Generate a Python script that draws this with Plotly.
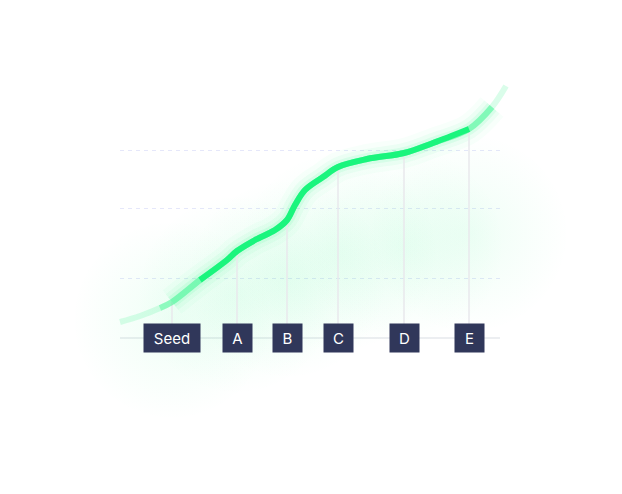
import plotly.graph_objects as go

# funding stages along the x axis
stages = ['Seed', 'A', 'B', 'C', 'D', 'E']
stage_x = [52, 117, 167, 218, 284, 349]
stage_y = [36, 87, 118, 171, 185, 209]

# growth curve
curve_x = [0, 20, 40, 52, 80, 107, 117, 135, 155, 167, 175, 185, 203, 218,
           247, 284, 313, 349, 372, 386]
curve_y = [16, 22, 30, 36, 58, 78, 87, 98, 108, 118, 133, 148, 161, 171,
           179, 185, 195, 209, 231, 252]

grid_y = [60, 130, 188]

GREEN = '#1af57d'
NAVY = '#30375a'

fig = go.Figure()

# grid lives on its own narrower axes (x / y), drawn first
fig.add_trace(go.Scatter(x=[], y=[], xaxis='x', yaxis='y', hoverinfo='skip'))

# big soft glow: one blurred blob per stage, halfway up its line
# (for radial gradients gradient.color is the centre colour)
fig.add_trace(go.Scatter(
    x=stage_x, y=[v / 2 for v in stage_y], mode='markers', xaxis='x2', yaxis='y2',
    marker=dict(size=200, color='rgba(26,245,125,0)', line=dict(width=0),
                gradient=dict(type='radial', color='rgba(26,245,125,0.07)')),
    hoverinfo='skip'
))

# halo around the line
for w, a in [(30, 0.03), (20, 0.05), (12, 0.09)]:
    fig.add_trace(go.Scatter(
        x=curve_x[3:19], y=curve_y[3:19], mode='lines', xaxis='x2', yaxis='y2',
        line=dict(color='rgba(26,245,125,%s)' % a, width=w, shape='spline'),
        hoverinfo='skip'
    ))

# vertical stage lines
vx, vy = [], []
for x, y in zip(stage_x, stage_y):
    vx += [x, x, None]
    vy += [0, y, None]
fig.add_trace(go.Scatter(x=vx, y=vy, mode='lines', xaxis='x2', yaxis='y2',
                         line=dict(color='#e8e9ed', width=1.5), hoverinfo='skip'))

# the curve, faded towards both ends
fig.add_trace(go.Scatter(x=curve_x, y=curve_y, mode='lines', xaxis='x2', yaxis='y2',
                         line=dict(color='rgba(26,245,125,0.16)', width=6, shape='spline')))
fig.add_trace(go.Scatter(x=curve_x[2:19], y=curve_y[2:19], mode='lines', xaxis='x2', yaxis='y2',
                         line=dict(color='rgba(26,245,125,0.35)', width=6, shape='spline')))
fig.add_trace(go.Scatter(x=curve_x[4:18], y=curve_y[4:18], mode='lines', xaxis='x2', yaxis='y2',
                         line=dict(color=GREEN, width=6, shape='spline')))

for name, x in zip(stages, stage_x):
    fig.add_annotation(
        x=x, y=0, xref='x2', yref='y2', text=name, showarrow=False,
        font=dict(family='Inter', size=15, color='white'),
        bgcolor=NAVY, width=56 if len(name) > 1 else 29, height=28,
        borderpad=0, xanchor='center', yanchor='middle'
    )

# the page has an 8px body margin, so the figure is 8px smaller and ranges shifted
fig.update_layout(
    width=614, height=486,
    margin=dict(l=0, r=0, t=0, b=0),
    paper_bgcolor='white', plot_bgcolor='rgba(0,0,0,0)',
    showlegend=False,
    xaxis=dict(domain=[112 / 614, 492 / 614], range=[0, 380], anchor='y',
               showgrid=False, showticklabels=False, zeroline=False),
    yaxis=dict(range=[-156, 330], anchor='x',
               tickvals=grid_y, showticklabels=False, showgrid=True,
               gridcolor='#e5e7fa', gridwidth=1, griddash='4px,4px',
               zeroline=True, zerolinecolor='#eceef1', zerolinewidth=1.5),
    xaxis2=dict(domain=[0, 1], range=[-112, 502], anchor='y2', visible=False),
    yaxis2=dict(domain=[0, 1], range=[-156, 330], anchor='x2', visible=False),
)

fig.write_html("out.html")
